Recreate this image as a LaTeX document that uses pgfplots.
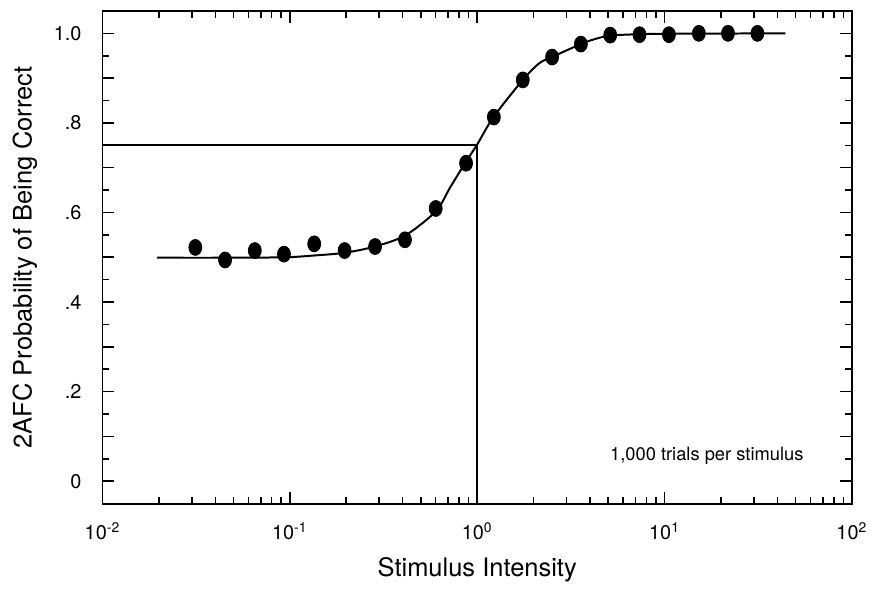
\documentclass[border=0pt]{standalone}
\usepackage{pgfplots}
\pgfplotsset{compat=1.18}
\usepackage{fontspec}
\setmainfont{TeX Gyre Heros}
\begin{document}
\begin{tikzpicture}
\begin{axis}[
  name=ax,
  scale only axis,
  width=376.5pt, height=247.5pt,
  xmode=log,
  xmin=0.01, xmax=100,
  ymin=-0.05, ymax=1.05,
  xtick={0.01,0.1,1,10,100},
  xticklabels={10\textsuperscript{-2},10\textsuperscript{-1},10\textsuperscript{0},10\textsuperscript{1},10\textsuperscript{2}},
  ytick={0,0.1,...,1.0},
  yticklabels={0,,.2,,.4,,.6,,.8,,1.0},
  minor y tick num=1,
  major tick length=6pt,
  minor tick length=3.5pt,
  every tick/.style={black, line width=0.8pt},
  axis line style={line width=1pt},
  tick label style={font=\fontsize{10}{11}\selectfont},
  xticklabel style={yshift=-6pt},
  yticklabel style={xshift=-7pt},
  xlabel={Stimulus Intensity},
  ylabel={2AFC Probability of Being Correct},
  label style={font=\fontsize{12.8}{15}\selectfont},
  xlabel style={at={(axis description cs:0.5,-0.1475)}, anchor=base},
  ylabel style={at={(axis description cs:-0.1036,0.5)}, anchor=center},
  clip=false,
]
% reference lines at threshold
\addplot [black, line width=1pt] coordinates {(0.01,0.75) (1,0.75) (1,-0.05)};
% fitted curve
\addplot [black, line width=1pt, smooth] coordinates {
  (0.0195,0.499) (0.045,0.499) (0.094,0.500) (0.135,0.504) (0.196,0.510)
  (0.284,0.524) (0.414,0.549) (0.602,0.603) (0.717,0.656) (0.864,0.711)
  (1.0,0.752) (1.221,0.813) (1.751,0.896) (2.14,0.933) (2.50,0.947)
  (3.575,0.976) (4.23,0.987) (5.13,0.995) (7.26,0.998) (10.2,0.999) (44.1,1.0)
};
% data
\addplot [only marks, mark=*, mark size=3.25pt, mark options={black, fill=black, yscale=1.23}] coordinates {
  (0.0313,0.522) (0.0451,0.494) (0.0650,0.515) (0.0930,0.507) (0.1349,0.530)
  (0.196,0.515) (0.285,0.524) (0.4115,0.539) (0.6005,0.609) (0.872,0.710)
  (1.227,0.813) (1.751,0.896) (2.51,0.947) (3.575,0.976) (5.127,0.996)
  (7.35,0.997) (10.55,0.997) (15.24,1.0) (21.8,1.0) (31.3,1.0)
};
\node [anchor=base, inner sep=0pt, font=\fontsize{9.2}{11}\selectfont] at (axis cs:16.8,0.0467) {1,000 trials per stimulus};
\end{axis}
\path ([shift={(-51.5pt,-39.5pt)}]ax.south west) rectangle ([shift={(9pt,5.5pt)}]ax.north east);
\end{tikzpicture}
\end{document}
